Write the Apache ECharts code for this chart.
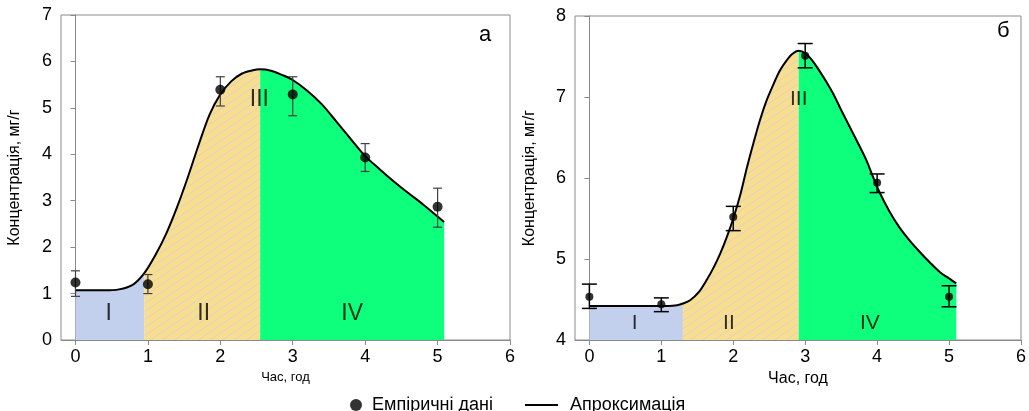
<!DOCTYPE html>
<html>
<head>
<meta charset="utf-8">
<script src="https://cdn.jsdelivr.net/npm/echarts@6/dist/echarts.min.js"></script>
<style>
  html, body { margin: 0; padding: 0; background: #ffffff; }
  #chart { width: 1029px; height: 411px; }
</style>
</head>
<body>
<div id="chart"></div>
<script>
// ---------- DATA ----------
const hours = [0, 1, 2, 3, 4, 5];
const xTicks = [0, 1, 2, 3, 4, 5, 6];

// Panel а
const meanA = [1.24, 1.20, 5.39, 5.29, 3.93, 2.87];
const lowA  = [0.94, 1.00, 5.04, 4.83, 3.63, 2.43];
const highA = [1.49, 1.41, 5.67, 5.67, 4.23, 3.27];
const curveXA = [0, 0.2, 0.4, 0.6, 0.8, 0.95, 1.1, 1.25, 1.4, 1.55, 1.7, 1.85, 2.0, 2.15, 2.3, 2.45, 2.55, 2.7, 2.85, 3.0, 3.2, 3.4, 3.6, 3.8, 4.0, 4.2, 4.4, 4.6, 4.8, 5.0, 5.09];
const curveYA = [1.07, 1.07, 1.07, 1.09, 1.20, 1.44, 1.82, 2.28, 2.85, 3.50, 4.20, 4.85, 5.29, 5.57, 5.74, 5.81, 5.83, 5.80, 5.71, 5.60, 5.37, 5.08, 4.71, 4.33, 3.96, 3.68, 3.41, 3.16, 2.92, 2.66, 2.54];
const boundsA = [0, 0.95, 2.55, 5.09];
const phaseLabelsA = [['I', 0.46, 0.57], ['II', 1.77, 0.57], ['III', 2.54, 5.17], ['IV', 3.82, 0.57]];

// Panel б
const meanB = [4.535, 4.44, 5.52, 7.51, 5.94, 4.535];
const lowB  = [4.39, 4.35, 5.35, 7.36, 5.82, 4.41];
const highB = [4.69, 4.52, 5.65, 7.66, 6.05, 4.67];
const curveXB = [0, 0.4, 0.8, 1.1, 1.22, 1.3, 1.4, 1.52, 1.63, 1.73, 1.82, 1.91, 2.0, 2.1, 2.19, 2.28, 2.37, 2.46, 2.56, 2.65, 2.74, 2.82, 2.91, 3.0, 3.1, 3.2, 3.3, 3.39, 3.5, 3.62, 3.74, 3.85, 3.94, 4.03, 4.17, 4.31, 4.45, 4.59, 4.73, 4.87, 5.0, 5.10];
const curveYB = [4.42, 4.42, 4.42, 4.42, 4.43, 4.45, 4.49, 4.59, 4.74, 4.90, 5.07, 5.27, 5.50, 5.80, 6.13, 6.43, 6.71, 6.95, 7.16, 7.33, 7.45, 7.53, 7.57, 7.54, 7.45, 7.32, 7.18, 7.04, 6.84, 6.63, 6.42, 6.22, 6.02, 5.83, 5.59, 5.39, 5.23, 5.09, 4.96, 4.84, 4.76, 4.70];
const boundsB = [0, 1.30, 2.91, 5.10];
const phaseLabelsB = [['I', 0.63, 4.21], ['II', 1.94, 4.21], ['III', 2.91, 6.97], ['IV', 3.90, 4.21]];

const nameEmp = 'Емпіричні дані';
const nameFit = 'Апроксимація';

// ---------- STYLE ----------
const FONT = "'Liberation Sans', Arial, sans-serif";
const FRAME = '#8a8a8a';
const BLUE = '#c2d0ee';
const YELLOW = '#f9de8f';
const GREEN = '#0eff7c';

function hatchPattern() {
  const w = 12, h = 8;
  const c = document.createElement('canvas');
  c.width = w; c.height = h;
  const ctx = c.getContext('2d');
  ctx.fillStyle = YELLOW;
  ctx.fillRect(0, 0, w, h);
  ctx.strokeStyle = '#d6d2cc';
  ctx.lineWidth = 1;
  [[0, h, w, 0], [-w, h, 0, 0], [w, h, 2 * w, 0]].forEach(s => {
    ctx.beginPath(); ctx.moveTo(s[0], s[1]); ctx.lineTo(s[2], s[3]); ctx.stroke();
  });
  return { image: c, repeat: 'repeat' };
}
const HATCH = hatchPattern();

function pairs(xs, ys) { return xs.map((x, i) => [x, ys[i]]); }
function segment(xs, ys, a, b) {
  return pairs(xs, ys).filter(p => p[0] >= a - 1e-9 && p[0] <= b + 1e-9);
}

const SMOOTH = 0.3;

function panelSeries(idx, cx, cy, bounds, mean, low, high, labels, opts) {
  const fills = [BLUE, HATCH, GREEN];
  const out = [];
  for (let i = 0; i < 3; i++) {
    out.push({
      type: 'line', xAxisIndex: idx, yAxisIndex: idx,
      data: segment(cx, cy, bounds[i], bounds[i + 1]),
      smooth: SMOOTH, symbol: 'none', silent: true,
      lineStyle: { width: 0, opacity: 0 },
      areaStyle: { color: fills[i], opacity: 1, origin: 'start' },
      z: 1
    });
  }
  out.push({
    name: nameFit, type: 'line', xAxisIndex: idx, yAxisIndex: idx,
    data: pairs(cx, cy), smooth: SMOOTH, symbol: 'none', showSymbol: false,
    lineStyle: { color: '#000', width: 2 }, itemStyle: { color: '#000' }, z: 3
  });
  out.push({
    type: 'custom', xAxisIndex: idx, yAxisIndex: idx, silent: true, z: 4,
    data: hours.map((x, i) => [x, low[i], high[i]]),
    renderItem: function (params, api) {
      const top = api.coord([api.value(0), api.value(2)]);
      const bot = api.coord([api.value(0), api.value(1)]);
      const hw = opts.cap;
      const st = { stroke: opts.barColor, lineWidth: opts.barWidth };
      return {
        type: 'group', children: [
          { type: 'line', shape: { x1: top[0], y1: top[1], x2: bot[0], y2: bot[1] }, style: st },
          { type: 'line', shape: { x1: top[0] - hw, y1: top[1], x2: top[0] + hw, y2: top[1] }, style: st },
          { type: 'line', shape: { x1: bot[0] - hw, y1: bot[1], x2: bot[0] + hw, y2: bot[1] }, style: st }
        ]
      };
    }
  });
  out.push({
    name: nameEmp, type: 'scatter', xAxisIndex: idx, yAxisIndex: idx,
    data: pairs(hours, mean), symbol: 'circle', symbolSize: opts.dot,
    itemStyle: { color: '#000' }, z: 5
  });
  out.push({
    type: 'scatter', xAxisIndex: idx, yAxisIndex: idx, silent: true, z: 6,
    data: labels.map(l => ({ name: l[0], value: [l[1], l[2]] })),
    symbolSize: 0,
    label: { show: true, position: 'inside', formatter: '{b}', color: '#000',
             fontFamily: FONT, fontSize: opts.labelSize }
  });
  return out;
}

function xAxis(idx, nameSize) {
  return {
    type: 'value', gridIndex: idx, min: -0.2, max: 6,
    name: 'Час, год', nameLocation: 'middle', nameGap: 29,
    nameTextStyle: { fontFamily: FONT, fontSize: nameSize, color: '#000' },
    axisLine: { show: true, lineStyle: { color: FRAME, width: 1 } },
    axisTick: { show: true, inside: false, length: 5, customValues: xTicks, lineStyle: { color: FRAME } },
    axisLabel: { customValues: xTicks, fontFamily: FONT, fontSize: 18, color: '#000', margin: 8 },
    splitLine: { show: false }
  };
}
function yAxis(idx, min, max, gap) {
  return {
    type: 'value', gridIndex: idx, min: min, max: max, interval: 1,
    name: 'Концентрація, мг/г', nameLocation: 'middle', nameGap: gap, nameRotate: 90,
    nameTextStyle: { fontFamily: FONT, fontSize: 16, color: '#000' },
    axisLine: { show: true, lineStyle: { color: FRAME, width: 1 } },
    axisTick: { show: true, inside: false, length: 5, lineStyle: { color: FRAME } },
    axisLabel: { fontFamily: FONT, fontSize: 18, color: '#000', margin: 9 },
    splitLine: { show: false }
  };
}

const chart = echarts.init(document.getElementById('chart'), null, { renderer: 'canvas' });
chart.setOption({
  animation: false,
  backgroundColor: '#ffffff',
  grid: [
    { left: 61, right: 519, top: 15, bottom: 71, show: true, borderColor: FRAME, borderWidth: 1, backgroundColor: 'transparent' },
    { left: 575, right: 7, top: 16, bottom: 71, show: true, borderColor: FRAME, borderWidth: 1, backgroundColor: 'transparent' }
  ],
  xAxis: [xAxis(0, 13), xAxis(1, 16)],
  yAxis: [yAxis(0, 0, 7, 38), yAxis(1, 4, 8, 37)],
  legend: [
    { data: [{ name: nameEmp, icon: 'circle' }], left: 345, top: 391, itemWidth: 22, itemHeight: 12,
      textStyle: { fontFamily: FONT, fontSize: 18, color: '#000' } },
    { data: [{ name: nameFit, icon: 'rect' }], left: 520, top: 391, itemWidth: 33, itemHeight: 2,
      itemStyle: { color: '#000' },
      textStyle: { fontFamily: FONT, fontSize: 18, color: '#000', padding: [0, 0, 0, 7] } }
  ],
  graphic: [
    { type: 'text', left: 479, top: 24, style: { text: 'а', font: '22px ' + FONT, fill: '#000' } },
    { type: 'text', left: 997, top: 20, style: { text: 'б', font: '22px ' + FONT, fill: '#000' } }
  ],
  series: [].concat(
    panelSeries(0, curveXA, curveYA, boundsA, meanA, lowA, highA, phaseLabelsA,
      { cap: 4.5, barColor: '#404040', barWidth: 1.2, dot: 10, labelSize: 23 }),
    panelSeries(1, curveXB, curveYB, boundsB, meanB, lowB, highB, phaseLabelsB,
      { cap: 7.5, barColor: '#000', barWidth: 1.5, dot: 8, labelSize: 21 })
  )
});
</script>
</body>
</html>
